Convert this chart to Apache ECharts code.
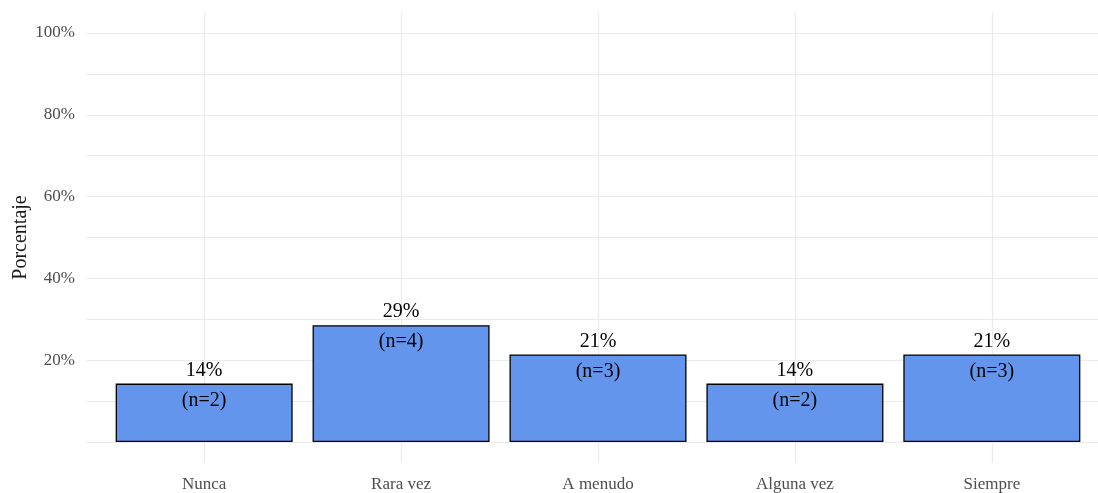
<!DOCTYPE html>
<html>
<head>
<meta charset="utf-8">
<script src="https://cdn.jsdelivr.net/npm/echarts@6/dist/echarts.min.js"></script>
<style>html,body{margin:0;padding:0;background:#fff}#c{width:1098px;height:493px}</style>
</head>
<body>
<div id="c"></div>
<script>
const categories = ['Nunca', 'Rara vez', 'A menudo', 'Alguna vez', 'Siempre'];
const percents = [14.29, 28.57, 21.43, 14.29, 21.43];
const counts = [2, 4, 3, 2, 3];
const yTickLabels = [20, 40, 60, 80, 100];
const yGridValues = [0, 10, 20, 30, 40, 50, 60, 70, 80, 90, 100];
const xPositions = [0, 1, 2, 3, 4];

const font = '"Liberation Serif", "Times New Roman", serif';
const chart = echarts.init(document.getElementById('c'), null, {renderer: 'canvas'});
const barData = percents.map((v, i) => [xPositions[i], v]);

chart.setOption({
  animation: false,
  backgroundColor: '#ffffff',
  grid: {left: 86, width: 1024, top: 12.5, bottom: 30.5, containLabel: false, outerBoundsMode: 'none'},
  xAxis: {
    type: 'value', min: -0.6, max: 4.6,
    axisLine: {show: false},
    axisTick: {show: false, customValues: xPositions},
    axisLabel: {
      customValues: xPositions, margin: 14,
      color: '#4d4d4d', fontFamily: font, fontSize: 17,
      formatter: v => categories[Math.round(v)]
    },
    splitLine: {show: true, lineStyle: {color: '#ebebeb', width: 1.2}}
  },
  yAxis: {
    type: 'value', min: -5, max: 105,
    name: 'Porcentaje', nameLocation: 'middle', nameGap: 55, nameMoveOverlap: false,
    nameTextStyle: {color: '#1a1a1a', fontFamily: font, fontSize: 20},
    axisLine: {show: false},
    axisTick: {show: false, customValues: yGridValues},
    axisLabel: {
      customValues: yTickLabels, margin: 11,
      color: '#4d4d4d', fontFamily: font, fontSize: 17,
      formatter: v => v + '%'
    },
    splitLine: {show: true, lineStyle: {color: '#ebebeb', width: 1.2}}
  },
  series: [
    {
      type: 'bar', data: barData, barWidth: 177,
      itemStyle: {color: '#6495ED', borderColor: '#000000', borderWidth: 1.3},
      label: {
        show: true, position: 'top', distance: 3,
        color: '#000000', fontFamily: font, fontSize: 20,
        formatter: p => Math.round(p.value[1]) + '%'
      }
    },
    {
      type: 'bar', data: barData, barWidth: 177, barGap: '-100%', z: 5,
      itemStyle: {color: 'rgba(0,0,0,0)', borderWidth: 0},
      label: {
        show: true, position: 'insideTop', distance: 7,
        color: '#000000', fontFamily: font, fontSize: 20,
        formatter: p => '(n=' + counts[p.dataIndex] + ')'
      }
    }
  ]
});
</script>
</body>
</html>
